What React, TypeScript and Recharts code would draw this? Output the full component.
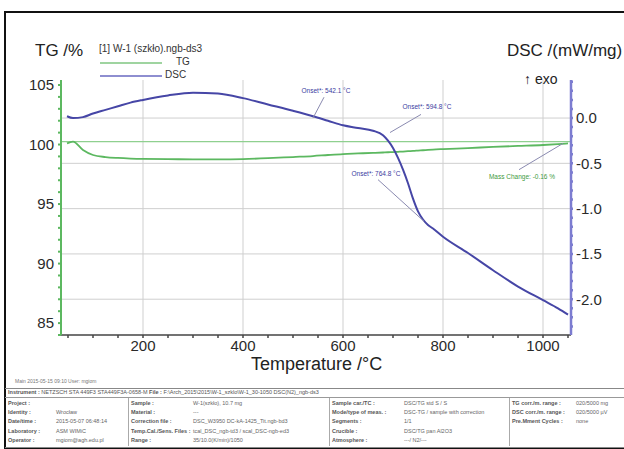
import React from "react";
import {
  ComposedChart,
  Line,
  XAxis,
  YAxis,
  ReferenceLine,
  ReferenceDot,
} from "recharts";

// temperature points (°C) shared by both curves
const temps = [
  48, 60, 80, 100, 125, 150, 175, 200, 250, 300, 350, 400, 450, 500, 540, 570,
  600, 630, 660, 680, 690, 700, 710, 720, 730, 740, 750, 760, 770, 780, 800,
  850, 900, 950, 1000, 1030, 1050,
];

// mass, %
const tgValues = [
  100.1, 100.25, 99.54, 99.12, 98.95, 98.87, 98.82, 98.79, 98.77, 98.76, 98.76,
  98.78, 98.85, 98.95, 99.03, 99.12, 99.2, 99.25, 99.3, 99.33, 99.35, 99.37,
  99.39, 99.41, 99.44, 99.46, 99.49, 99.52, 99.55, 99.58, 99.62, 99.7, 99.8,
  99.88, 99.96, 100.03, 100.09,
];

// heat flow, mW/mg
const dscValues = [
  0.02, 0.0, 0.01, 0.05, 0.09, 0.13, 0.17, 0.2, 0.25, 0.28, 0.27, 0.22, 0.15,
  0.08, 0.02, -0.03, -0.08, -0.11, -0.14, -0.19, -0.25, -0.33, -0.44, -0.57,
  -0.72, -0.89, -1.03, -1.12, -1.18, -1.22, -1.31, -1.49, -1.68, -1.86, -2.01,
  -2.1, -2.17,
];

const tempTicks = [
  50, 100, 150, 200, 250, 300, 350, 400, 450, 500, 550, 600, 650, 700, 750,
  800, 850, 900, 950, 1000, 1050,
];
const tempLabels = [200, 400, 600, 800, 1000];

const tgTicks = [
  84, 85, 86, 87, 88, 89, 90, 91, 92, 93, 94, 95, 96, 97, 98, 99, 100, 101,
  102, 103, 104, 105,
];
const tgLabels = [85, 90, 95, 100, 105];

const dscTicks = [
  -2.3, -2.2, -2.1, -2.0, -1.9, -1.8, -1.7, -1.6, -1.5, -1.4, -1.3, -1.2, -1.1,
  -1.0, -0.9, -0.8, -0.7, -0.6, -0.5, -0.4, -0.3, -0.2, -0.1, 0.0, 0.1, 0.2,
  0.3, 0.4,
];
const dscLabels = [0.0, -0.5, -1.0, -1.5, -2.0];

const tempDomain = [36, 1056];
const dscDomain = [-2.395, 0.42];

// onset / mass change annotations: text spot and leader line (°C, mW/mg)
const notes = [
  { text: "Onset*: 542.1 °C", x: 566, y: 0.3, from: [562, 0.23], to: [540, 0.0], color: "#3a3aa0" },
  { text: "Onset*: 594.8 °C", x: 768, y: 0.12, from: [756, 0.04], to: [694, -0.16], color: "#3a3aa0" },
  { text: "Onset*: 764.8 °C", x: 666, y: -0.61, from: [670, -0.68], to: [762, -1.14], color: "#3a3aa0" },
  { text: "Mass Change: -0.16 %", x: 958, y: -0.65, from: [952, -0.57], to: [1040, -0.28], color: "#3f9a3f" },
];

const infoRows = [
  ["Project :", "", "Sample :", "W-1(szkło), 10.7 mg", "Sample car./TC :", "DSC/TG std S / S", "TG corr./m. range :", "020/5000 mg"],
  ["Identity :", "Wrocław", "Material :", "---", "Mode/type of meas. :", "DSC-TG / sample with correction", "DSC corr./m. range :", "020/5000 µV"],
  ["Date/time :", "2015-05-07 06:48:14", "Correction file :", "DSC_W3950 DC-kA-1425_Tit.ngb-bd3", "Segments :", "1/1", "Pre.Mment Cycles :", "none"],
  ["Laboratory :", "ASM WIMiC", "Temp.Cal./Sens. Files :", "tcal_DSC_ngb-td3 / scal_DSC-ngb-ed3", "Crucible :", "DSC/TG pan Al2O3", "", ""],
  ["Operator :", "mgiom@agh.edu.pl", "Range :", "35/10.0(K/min)/1050", "Atmosphere :", "---/ N2/---", "", ""],
];

const data = temps.map((t, i) => ({ t, tg: tgValues[i], dsc: dscValues[i] }));

const font = "'Liberation Sans', Arial, sans-serif";
const tgColor = "#5cb860";
const dscColor = "#4646a6";
const gridColor = "#cfcfcf";

const fmtTemp = (v: number) => (tempLabels.includes(v) ? String(v) : "");
const fmtTg = (v: number) => (tgLabels.includes(v) ? String(v) : "");
const fmtDsc = (v: number) =>
  dscLabels.some((d) => Math.abs(d - v) < 1e-6) ? v.toFixed(1) : "";

const abs = (left: number, top: number, extra: React.CSSProperties = {}): React.CSSProperties => ({
  position: "absolute",
  left,
  top,
  fontFamily: font,
  whiteSpace: "nowrap",
  lineHeight: 1,
  ...extra,
});

const tickStyle = { fontSize: 15, fill: "#2a2a2a", fontFamily: font };

export default function App() {
  const colX = [8, 131, 332, 512];
  const valOffset = [48, 62, 72, 64];
  return (
    <div
      style={{
        position: "absolute",
        left: 0,
        top: 0,
        width: 624,
        height: 449,
        background: "#fff",
        overflow: "hidden",
      }}
    >
      {/* frame */}
      <div
        style={{
          position: "absolute",
          left: 4,
          top: 11,
          width: 640,
          height: 435,
          border: "2px solid #111",
        }}
      />

      <ComposedChart
        width={624}
        height={449}
        data={data}
        margin={{ top: 80, left: 21, right: 10, bottom: 84 }}
        style={{ position: "absolute", left: 0, top: 0 }}
      >
        <XAxis
          dataKey="t"
          type="number"
          domain={tempDomain}
          ticks={tempTicks}
          tickFormatter={fmtTemp}
          interval={0}
          allowDataOverflow
          height={30}
          stroke="#444"
          strokeWidth={1.5}
          tickSize={3}
          tickMargin={2}
          tick={tickStyle}
        />
        <YAxis
          yAxisId="tg"
          orientation="left"
          domain={[84, 105.42]}
          ticks={tgTicks}
          tickFormatter={fmtTg}
          interval={0}
          allowDataOverflow
          width={40}
          stroke={tgColor}
          strokeWidth={2}
          tickSize={3}
          tickMargin={4}
          tick={tickStyle}
        />
        <YAxis
          yAxisId="dsc"
          orientation="right"
          domain={dscDomain}
          ticks={dscTicks}
          tickFormatter={fmtDsc}
          interval={0}
          allowDataOverflow
          width={43}
          stroke="#7c7cd0"
          strokeWidth={2.5}
          tickSize={2}
          tickMargin={3}
          tick={tickStyle}
        />

        {/* grid, drawn as segments across the plot */}
        {tempLabels.map((v) => (
          <ReferenceLine
            key={"gx" + v}
            yAxisId="dsc"
            segment={[
              { x: v, y: dscDomain[0] },
              { x: v, y: dscDomain[1] },
            ]}
            stroke={gridColor}
            strokeWidth={1}
          />
        ))}
        {dscLabels.map((v) => (
          <ReferenceLine
            key={"gy" + v}
            yAxisId="dsc"
            segment={[
              { x: tempDomain[0], y: v },
              { x: tempDomain[1], y: v },
            ]}
            stroke={gridColor}
            strokeWidth={1}
          />
        ))}

        {/* initial mass level */}
        <ReferenceLine y={100.25} yAxisId="tg" stroke="#8fd08f" strokeWidth={1.2} />

        <Line
          yAxisId="tg"
          dataKey="tg"
          type="monotone"
          stroke={tgColor}
          strokeWidth={1.8}
          dot={false}
          isAnimationActive={false}
        />
        <Line
          yAxisId="dsc"
          dataKey="dsc"
          type="monotone"
          stroke={dscColor}
          strokeWidth={2}
          dot={false}
          isAnimationActive={false}
        />

        {notes.map((n) => (
          <ReferenceLine
            key={"l" + n.text}
            yAxisId="dsc"
            segment={[
              { x: n.from[0], y: n.from[1] },
              { x: n.to[0], y: n.to[1] },
            ]}
            stroke="#8a8ab0"
            strokeWidth={1}
          />
        ))}
        {notes.map((n) => (
          <ReferenceDot
            key={"d" + n.text}
            yAxisId="dsc"
            x={n.x}
            y={n.y}
            r={0}
            fill="none"
            stroke="none"
            label={{
              value: n.text,
              position: "center",
              fontSize: 6.5,
              fill: n.color,
              fontFamily: font,
            }}
          />
        ))}
      </ComposedChart>

      {/* titles and legend */}
      <div style={abs(35, 42, { fontSize: 17, color: "#222" })}>TG /%</div>
      <div style={abs(99, 44, { fontSize: 10, color: "#333" })}>[1] W-1 (szkło).ngb-ds3</div>
      <div style={{ position: "absolute", left: 100, top: 62, width: 62, height: 1.5, background: "#9fd4a0" }} />
      <div style={abs(176, 57, { fontSize: 10, color: "#333" })}>TG</div>
      <div style={{ position: "absolute", left: 100, top: 75, width: 62, height: 1.5, background: "#8e8ed0" }} />
      <div style={abs(165, 70, { fontSize: 10, color: "#333" })}>DSC</div>
      <div style={abs(507, 42, { fontSize: 17, color: "#222" })}>DSC /(mW/mg)</div>
      <div style={abs(524, 72, { fontSize: 14, color: "#222" })}>↑ exo</div>
      <div style={abs(251, 355, { fontSize: 18, color: "#222" })}>Temperature /°C</div>
      <div style={abs(15, 379, { fontSize: 5, color: "#777" })}>Main   2015-05-15 09:10    User: mgiom</div>

      {/* measurement info table */}
      <div
        style={{
          position: "absolute",
          left: 5,
          top: 388,
          width: 640,
          height: 58,
          borderTop: "1.5px solid #888",
          borderBottom: "1.5px solid #888",
        }}
      />
      <div style={{ position: "absolute", left: 5, top: 397, width: 640, height: 1, background: "#999" }} />
      <div style={abs(8, 390, { fontSize: 5.5, color: "#555", fontWeight: 700 })}>
        Instrument :{"   "}
        <span style={{ fontWeight: 400 }}>NETZSCH STA 449F3 STA449F3A-0658-M</span>
        {"   "}File :{" "}
        <span style={{ fontWeight: 400 }}>F:\Arch_2015\2015\W-1_szklo\W-1_30-1050 DSC(N2)_ngb-ds3</span>
      </div>
      {[128, 329, 509].map((x) => (
        <div key={x} style={{ position: "absolute", left: x, top: 398, width: 1, height: 48, background: "#aaa" }} />
      ))}
      {infoRows.map((row, r) =>
        [0, 1, 2, 3].map((c) => (
          <React.Fragment key={r + "-" + c}>
            <div style={abs(colX[c], 401 + r * 9.2, { fontSize: 5.5, color: "#555", fontWeight: 700 })}>
              {row[c * 2]}
            </div>
            <div style={abs(colX[c] + valOffset[c], 401 + r * 9.2, { fontSize: 5.5, color: "#666" })}>
              {row[c * 2 + 1]}
            </div>
          </React.Fragment>
        ))
      )}
    </div>
  );
}
